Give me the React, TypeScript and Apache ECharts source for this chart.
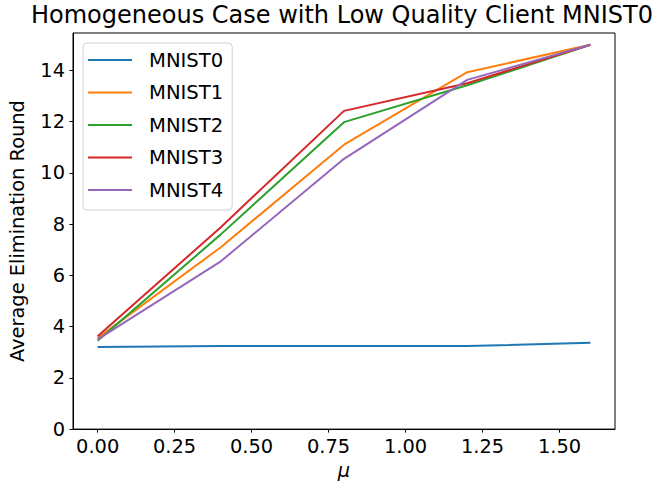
import React, { useEffect, useRef } from "react";
import * as echarts from "echarts";

const muValues = [0, 0.4, 0.8, 1.2, 1.6];
const seriesNames = ["MNIST0", "MNIST1", "MNIST2", "MNIST3", "MNIST4"];
const mnist0 = [3.2, 3.24, 3.24, 3.24, 3.37];
const mnist1 = [3.55, 7.1, 11.1, 13.93, 15.0];
const mnist2 = [3.45, 7.6, 11.98, 13.42, 15.0];
const mnist3 = [3.62, 7.88, 12.42, 13.5, 15.0];
const mnist4 = [3.5, 6.55, 10.55, 13.63, 15.0];
const colors = ["#1f77b4", "#ff7f0e", "#2ca02c", "#d62728", "#9467bd"];
const xTicks = [0, 0.25, 0.5, 0.75, 1.0, 1.25, 1.5];
const yTicks = [0, 2, 4, 6, 8, 10, 12, 14];

const FONT = "DejaVu Sans";

export default function App() {
  const ref = useRef<HTMLDivElement>(null);
  useEffect(() => {
    if (!ref.current) return;
    document.body.style.margin = "0";
    const chart = echarts.init(ref.current, undefined, { renderer: "svg" });
    const all = [mnist0, mnist1, mnist2, mnist3, mnist4];
    chart.setOption({
      animation: false,
      title: {
        text: "Homogeneous Case with Low Quality Client MNIST0",
        left: 342,
        top: 3,
        textAlign: "center",
        padding: 0,
        textStyle: { fontFamily: FONT, fontSize: 24, fontWeight: "normal", color: "#000" },
      },
      legend: {
        orient: "vertical",
        left: 83,
        top: 43,
        padding: [7, 9, 10, 5],
        itemGap: 12.5,
        itemWidth: 44,
        itemHeight: 2,
        icon: "rect",
        borderColor: "#d0d0d0",
        borderWidth: 1,
        borderRadius: 4,
        backgroundColor: "rgba(255,255,255,0.8)",
        data: seriesNames,
        textStyle: {
          fontFamily: FONT,
          fontSize: 19.6,
          color: "#000",
          lineHeight: 20,
          padding: [0, 0, 0, 12],
        },
      },
      grid: {
        left: 72,
        right: 52,
        top: 33,
        bottom: 55,
        show: true,
        borderColor: "#000",
        borderWidth: 1,
        backgroundColor: "transparent",
      },
      xAxis: {
        type: "value",
        min: -0.08,
        max: 1.68,
        name: "μ",
        nameLocation: "middle",
        nameGap: 30,
        nameTextStyle: { fontFamily: FONT, fontSize: 19.4, fontStyle: "italic", color: "#000" },
        axisLine: { show: true, onZero: false, lineStyle: { color: "#000", width: 1 } },
        axisTick: {
          show: true,
          customValues: xTicks,
          length: 3.5,
          lineStyle: { color: "#000", width: 1 },
        },
        axisLabel: {
          customValues: xTicks,
          margin: 8,
          fontFamily: FONT,
          fontSize: 19.4,
          color: "#000",
          formatter: (v: number) => v.toFixed(2),
        },
        splitLine: { show: false },
      },
      yAxis: {
        type: "value",
        min: 0,
        max: 15.46,
        name: "Average Elimination Round",
        nameLocation: "middle",
        nameGap: 46,
        nameTextStyle: { fontFamily: FONT, fontSize: 19.4, color: "#000" },
        axisLine: { show: true, onZero: false, lineStyle: { color: "#000", width: 1 } },
        axisTick: {
          show: true,
          customValues: yTicks,
          length: 3.5,
          lineStyle: { color: "#000", width: 1 },
        },
        axisLabel: {
          customValues: yTicks,
          margin: 8,
          fontFamily: FONT,
          fontSize: 19.4,
          color: "#000",
        },
        splitLine: { show: false },
      },
      series: seriesNames.map((name, i) => ({
        name,
        type: "line",
        symbol: "none",
        data: muValues.map((x, j) => [x, all[i][j]]),
        lineStyle: { color: colors[i], width: 2 },
        itemStyle: { color: colors[i] },
      })),
    });
    return () => chart.dispose();
  }, []);
  return <div ref={ref} style={{ width: 667, height: 485 }} />;
}
